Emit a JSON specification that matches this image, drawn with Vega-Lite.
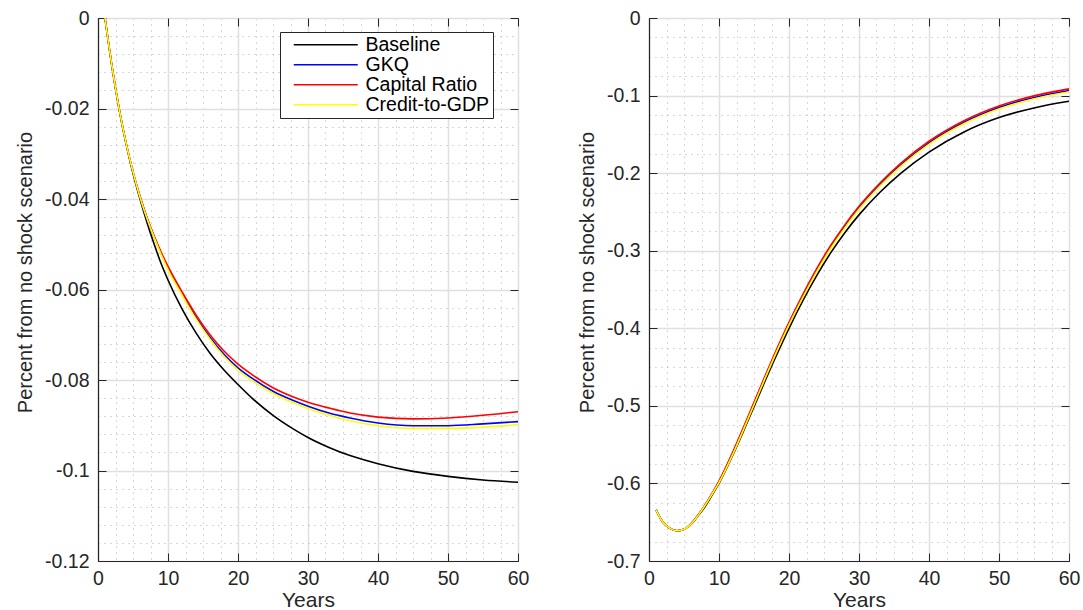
{
  "$schema": "https://vega.github.io/schema/vega-lite/v6.json",
  "background": "white",
  "padding": {"left": 15, "top": 7, "right": 0, "bottom": 0},
  "spacing": 46,
  "datasets": {
    "left": [
      {"year":1,"value":0,"series":"Baseline"},{"year":2,"value":-0.0108,"series":"Baseline"},{"year":3,"value":-0.0200,"series":"Baseline"},{"year":4,"value":-0.0277,"series":"Baseline"},{"year":5,"value":-0.0343,"series":"Baseline"},{"year":6,"value":-0.0400,"series":"Baseline"},{"year":7,"value":-0.0452,"series":"Baseline"},{"year":8,"value":-0.0499,"series":"Baseline"},{"year":9,"value":-0.0542,"series":"Baseline"},{"year":10,"value":-0.0579,"series":"Baseline"},{"year":12,"value":-0.0643,"series":"Baseline"},{"year":14,"value":-0.0696,"series":"Baseline"},{"year":16,"value":-0.0741,"series":"Baseline"},{"year":18,"value":-0.0778,"series":"Baseline"},{"year":20,"value":-0.0810,"series":"Baseline"},{"year":22,"value":-0.0840,"series":"Baseline"},{"year":25,"value":-0.0878,"series":"Baseline"},{"year":28,"value":-0.0909,"series":"Baseline"},{"year":30,"value":-0.0927,"series":"Baseline"},{"year":33,"value":-0.0949,"series":"Baseline"},{"year":36,"value":-0.0967,"series":"Baseline"},{"year":40,"value":-0.0985,"series":"Baseline"},{"year":45,"value":-0.1002,"series":"Baseline"},{"year":50,"value":-0.1013,"series":"Baseline"},{"year":55,"value":-0.1021,"series":"Baseline"},{"year":60,"value":-0.1026,"series":"Baseline"},
      {"year":1,"value":0,"series":"GKQ"},{"year":2,"value":-0.0107,"series":"GKQ"},{"year":3,"value":-0.0199,"series":"GKQ"},{"year":4,"value":-0.0276,"series":"GKQ"},{"year":5,"value":-0.0340,"series":"GKQ"},{"year":6,"value":-0.0395,"series":"GKQ"},{"year":7,"value":-0.0442,"series":"GKQ"},{"year":8,"value":-0.0483,"series":"GKQ"},{"year":9,"value":-0.0520,"series":"GKQ"},{"year":10,"value":-0.0553,"series":"GKQ"},{"year":12,"value":-0.0609,"series":"GKQ"},{"year":14,"value":-0.0661,"series":"GKQ"},{"year":16,"value":-0.0706,"series":"GKQ"},{"year":18,"value":-0.0743,"series":"GKQ"},{"year":20,"value":-0.0773,"series":"GKQ"},{"year":22,"value":-0.0796,"series":"GKQ"},{"year":25,"value":-0.0825,"series":"GKQ"},{"year":28,"value":-0.0846,"series":"GKQ"},{"year":30,"value":-0.0858,"series":"GKQ"},{"year":33,"value":-0.0873,"series":"GKQ"},{"year":36,"value":-0.0884,"series":"GKQ"},{"year":40,"value":-0.0895,"series":"GKQ"},{"year":45,"value":-0.0901,"series":"GKQ"},{"year":50,"value":-0.0901,"series":"GKQ"},{"year":55,"value":-0.0897,"series":"GKQ"},{"year":60,"value":-0.0892,"series":"GKQ"},
      {"year":1,"value":0,"series":"Capital Ratio"},{"year":2,"value":-0.0107,"series":"Capital Ratio"},{"year":3,"value":-0.0199,"series":"Capital Ratio"},{"year":4,"value":-0.0276,"series":"Capital Ratio"},{"year":5,"value":-0.0340,"series":"Capital Ratio"},{"year":6,"value":-0.0394,"series":"Capital Ratio"},{"year":7,"value":-0.0441,"series":"Capital Ratio"},{"year":8,"value":-0.0481,"series":"Capital Ratio"},{"year":9,"value":-0.0517,"series":"Capital Ratio"},{"year":10,"value":-0.0549,"series":"Capital Ratio"},{"year":12,"value":-0.0605,"series":"Capital Ratio"},{"year":14,"value":-0.0656,"series":"Capital Ratio"},{"year":16,"value":-0.0700,"series":"Capital Ratio"},{"year":18,"value":-0.0736,"series":"Capital Ratio"},{"year":20,"value":-0.0765,"series":"Capital Ratio"},{"year":22,"value":-0.0788,"series":"Capital Ratio"},{"year":25,"value":-0.0817,"series":"Capital Ratio"},{"year":28,"value":-0.0838,"series":"Capital Ratio"},{"year":30,"value":-0.0849,"series":"Capital Ratio"},{"year":33,"value":-0.0862,"series":"Capital Ratio"},{"year":36,"value":-0.0873,"series":"Capital Ratio"},{"year":40,"value":-0.0882,"series":"Capital Ratio"},{"year":45,"value":-0.0886,"series":"Capital Ratio"},{"year":50,"value":-0.0884,"series":"Capital Ratio"},{"year":55,"value":-0.0878,"series":"Capital Ratio"},{"year":60,"value":-0.0870,"series":"Capital Ratio"},
      {"year":1,"value":0,"series":"Credit-to-GDP"},{"year":2,"value":-0.0107,"series":"Credit-to-GDP"},{"year":3,"value":-0.0199,"series":"Credit-to-GDP"},{"year":4,"value":-0.0276,"series":"Credit-to-GDP"},{"year":5,"value":-0.0340,"series":"Credit-to-GDP"},{"year":6,"value":-0.0396,"series":"Credit-to-GDP"},{"year":7,"value":-0.0443,"series":"Credit-to-GDP"},{"year":8,"value":-0.0484,"series":"Credit-to-GDP"},{"year":9,"value":-0.0522,"series":"Credit-to-GDP"},{"year":10,"value":-0.0556,"series":"Credit-to-GDP"},{"year":12,"value":-0.0612,"series":"Credit-to-GDP"},{"year":14,"value":-0.0665,"series":"Credit-to-GDP"},{"year":16,"value":-0.0710,"series":"Credit-to-GDP"},{"year":18,"value":-0.0748,"series":"Credit-to-GDP"},{"year":20,"value":-0.0778,"series":"Credit-to-GDP"},{"year":22,"value":-0.0801,"series":"Credit-to-GDP"},{"year":25,"value":-0.0830,"series":"Credit-to-GDP"},{"year":28,"value":-0.0851,"series":"Credit-to-GDP"},{"year":30,"value":-0.0863,"series":"Credit-to-GDP"},{"year":33,"value":-0.0878,"series":"Credit-to-GDP"},{"year":36,"value":-0.0890,"series":"Credit-to-GDP"},{"year":40,"value":-0.0901,"series":"Credit-to-GDP"},{"year":45,"value":-0.0907,"series":"Credit-to-GDP"},{"year":50,"value":-0.0907,"series":"Credit-to-GDP"},{"year":55,"value":-0.0904,"series":"Credit-to-GDP"},{"year":60,"value":-0.0899,"series":"Credit-to-GDP"}
    ],
    "right": [
      {"year":1,"value":-0.634,"series":"Baseline"},{"year":2,"value":-0.650,"series":"Baseline"},{"year":3,"value":-0.658,"series":"Baseline"},{"year":4,"value":-0.661,"series":"Baseline"},{"year":5,"value":-0.659,"series":"Baseline"},{"year":6,"value":-0.653,"series":"Baseline"},{"year":7,"value":-0.642,"series":"Baseline"},{"year":8,"value":-0.630,"series":"Baseline"},{"year":9,"value":-0.615,"series":"Baseline"},{"year":10,"value":-0.600,"series":"Baseline"},{"year":12,"value":-0.563,"series":"Baseline"},{"year":14,"value":-0.522,"series":"Baseline"},{"year":16,"value":-0.480,"series":"Baseline"},{"year":18,"value":-0.439,"series":"Baseline"},{"year":20,"value":-0.400,"series":"Baseline"},{"year":22,"value":-0.364,"series":"Baseline"},{"year":24,"value":-0.3314,"series":"Baseline"},{"year":26,"value":-0.3022,"series":"Baseline"},{"year":28,"value":-0.2764,"series":"Baseline"},{"year":30,"value":-0.2538,"series":"Baseline"},{"year":33,"value":-0.2247,"series":"Baseline"},{"year":36,"value":-0.2001,"series":"Baseline"},{"year":40,"value":-0.1729,"series":"Baseline"},{"year":45,"value":-0.1469,"series":"Baseline"},{"year":50,"value":-0.1284,"series":"Baseline"},{"year":55,"value":-0.1159,"series":"Baseline"},{"year":60,"value":-0.1074,"series":"Baseline"},
      {"year":1,"value":-0.634,"series":"GKQ"},{"year":2,"value":-0.650,"series":"GKQ"},{"year":3,"value":-0.658,"series":"GKQ"},{"year":4,"value":-0.661,"series":"GKQ"},{"year":5,"value":-0.659,"series":"GKQ"},{"year":6,"value":-0.652,"series":"GKQ"},{"year":7,"value":-0.641,"series":"GKQ"},{"year":8,"value":-0.628,"series":"GKQ"},{"year":9,"value":-0.6135,"series":"GKQ"},{"year":10,"value":-0.598,"series":"GKQ"},{"year":12,"value":-0.5605,"series":"GKQ"},{"year":14,"value":-0.5185,"series":"GKQ"},{"year":16,"value":-0.4755,"series":"GKQ"},{"year":18,"value":-0.4335,"series":"GKQ"},{"year":20,"value":-0.394,"series":"GKQ"},{"year":22,"value":-0.358,"series":"GKQ"},{"year":24,"value":-0.3244,"series":"GKQ"},{"year":26,"value":-0.2947,"series":"GKQ"},{"year":28,"value":-0.2684,"series":"GKQ"},{"year":30,"value":-0.2448,"series":"GKQ"},{"year":33,"value":-0.2147,"series":"GKQ"},{"year":36,"value":-0.1891,"series":"GKQ"},{"year":40,"value":-0.1609,"series":"GKQ"},{"year":45,"value":-0.1344,"series":"GKQ"},{"year":50,"value":-0.1154,"series":"GKQ"},{"year":55,"value":-0.1024,"series":"GKQ"},{"year":60,"value":-0.0934,"series":"GKQ"},
      {"year":1,"value":-0.634,"series":"Capital Ratio"},{"year":2,"value":-0.650,"series":"Capital Ratio"},{"year":3,"value":-0.658,"series":"Capital Ratio"},{"year":4,"value":-0.661,"series":"Capital Ratio"},{"year":5,"value":-0.659,"series":"Capital Ratio"},{"year":6,"value":-0.652,"series":"Capital Ratio"},{"year":7,"value":-0.641,"series":"Capital Ratio"},{"year":8,"value":-0.628,"series":"Capital Ratio"},{"year":9,"value":-0.613,"series":"Capital Ratio"},{"year":10,"value":-0.597,"series":"Capital Ratio"},{"year":12,"value":-0.559,"series":"Capital Ratio"},{"year":14,"value":-0.517,"series":"Capital Ratio"},{"year":16,"value":-0.474,"series":"Capital Ratio"},{"year":18,"value":-0.432,"series":"Capital Ratio"},{"year":20,"value":-0.3925,"series":"Capital Ratio"},{"year":22,"value":-0.356,"series":"Capital Ratio"},{"year":24,"value":-0.3224,"series":"Capital Ratio"},{"year":26,"value":-0.2927,"series":"Capital Ratio"},{"year":28,"value":-0.2664,"series":"Capital Ratio"},{"year":30,"value":-0.2428,"series":"Capital Ratio"},{"year":33,"value":-0.2127,"series":"Capital Ratio"},{"year":36,"value":-0.1871,"series":"Capital Ratio"},{"year":40,"value":-0.1589,"series":"Capital Ratio"},{"year":45,"value":-0.1324,"series":"Capital Ratio"},{"year":50,"value":-0.1134,"series":"Capital Ratio"},{"year":55,"value":-0.1004,"series":"Capital Ratio"},{"year":60,"value":-0.0914,"series":"Capital Ratio"},
      {"year":1,"value":-0.634,"series":"Credit-to-GDP"},{"year":2,"value":-0.650,"series":"Credit-to-GDP"},{"year":3,"value":-0.658,"series":"Credit-to-GDP"},{"year":4,"value":-0.661,"series":"Credit-to-GDP"},{"year":5,"value":-0.659,"series":"Credit-to-GDP"},{"year":6,"value":-0.6525,"series":"Credit-to-GDP"},{"year":7,"value":-0.6415,"series":"Credit-to-GDP"},{"year":8,"value":-0.6285,"series":"Credit-to-GDP"},{"year":9,"value":-0.614,"series":"Credit-to-GDP"},{"year":10,"value":-0.599,"series":"Credit-to-GDP"},{"year":12,"value":-0.562,"series":"Credit-to-GDP"},{"year":14,"value":-0.520,"series":"Credit-to-GDP"},{"year":16,"value":-0.477,"series":"Credit-to-GDP"},{"year":18,"value":-0.435,"series":"Credit-to-GDP"},{"year":20,"value":-0.3955,"series":"Credit-to-GDP"},{"year":22,"value":-0.3598,"series":"Credit-to-GDP"},{"year":24,"value":-0.3262,"series":"Credit-to-GDP"},{"year":26,"value":-0.2965,"series":"Credit-to-GDP"},{"year":28,"value":-0.2702,"series":"Credit-to-GDP"},{"year":30,"value":-0.2466,"series":"Credit-to-GDP"},{"year":33,"value":-0.2165,"series":"Credit-to-GDP"},{"year":36,"value":-0.1909,"series":"Credit-to-GDP"},{"year":40,"value":-0.1629,"series":"Credit-to-GDP"},{"year":45,"value":-0.1364,"series":"Credit-to-GDP"},{"year":50,"value":-0.1174,"series":"Credit-to-GDP"},{"year":55,"value":-0.1044,"series":"Credit-to-GDP"},{"year":60,"value":-0.0954,"series":"Credit-to-GDP"}
    ]
  },
  "hconcat": [
    {
      "width": 420,
      "height": 543,
      "data": {"name": "left"},
      "layer": [
        {
          "mark": {"type": "line", "strokeWidth": 1.6, "interpolate": "monotone"},
          "encoding": {
            "x": {
              "field": "year", "type": "quantitative",
              "scale": {"domain": [0, 60], "nice": false, "zero": false},
              "axis": {
                "orient": "bottom",
                "title": "Years",
                "values": [0,2.5,5,7.5,10,12.5,15,17.5,20,22.5,25,27.5,30,32.5,35,37.5,40,42.5,45,47.5,50,52.5,55,57.5,60],
                "labelExpr": "datum.value % 10 === 0 ? datum.value + '' : ''",
                "grid": true,
                "gridColor": {"condition": {"test": "datum.value % 10 === 0", "value": "#e0e0e0"}, "value": "#b0b0b0"},
                "gridDash": {"condition": {"test": "datum.value % 10 === 0", "value": []}, "value": [1, 5]},
                "gridWidth": {"condition": {"test": "datum.value % 10 === 0", "value": 1.5}, "value": 1},
                "tickOpacity": {"condition": {"test": "datum.value % 10 === 0", "value": 1}, "value": 0},
                "tickSize": -8,
                "labelPadding": 16,
                "titlePadding": 2
              }
            },
            "y": {
              "field": "value", "type": "quantitative",
              "scale": {"domain": [-0.12, 0], "nice": false, "zero": false},
              "axis": {
                "orient": "left",
                "title": "Percent from no shock scenario",
                "titleFontSize": 20,
                "titleY": 254,
                "values": [0,-0.004,-0.008,-0.012,-0.016,-0.02,-0.024,-0.028,-0.032,-0.036,-0.04,-0.044,-0.048,-0.052,-0.056,-0.06,-0.064,-0.068,-0.072,-0.076,-0.08,-0.084,-0.088,-0.092,-0.096,-0.1,-0.104,-0.108,-0.112,-0.116,-0.12],
                "labelExpr": "indexof([0,-0.02,-0.04,-0.06,-0.08,-0.1,-0.12], datum.value) >= 0 ? datum.value + '' : ''",
                "grid": true,
                "gridColor": {"condition": {"test": "indexof([0,-0.02,-0.04,-0.06,-0.08,-0.1,-0.12], datum.value) >= 0", "value": "#e0e0e0"}, "value": "#b0b0b0"},
                "gridDash": {"condition": {"test": "indexof([0,-0.02,-0.04,-0.06,-0.08,-0.1,-0.12], datum.value) >= 0", "value": []}, "value": [1, 5]},
                "gridWidth": {"condition": {"test": "indexof([0,-0.02,-0.04,-0.06,-0.08,-0.1,-0.12], datum.value) >= 0", "value": 1.5}, "value": 1},
                "tickOpacity": {"condition": {"test": "indexof([0,-0.02,-0.04,-0.06,-0.08,-0.1,-0.12], datum.value) >= 0", "value": 1}, "value": 0},
                "tickSize": -8,
                "labelPadding": 17,
                "titlePadding": 9
              }
            },
            "color": {
              "field": "series", "type": "nominal",
              "scale": {"domain": ["Baseline", "GKQ", "Capital Ratio", "Credit-to-GDP"], "range": ["#000000", "#0000ff", "#ff0000", "#ffff00"]},
              "legend": {
                "title": null,
                "orient": "none",
                "legendX": 182,
                "legendY": 14,
                "symbolType": "M-4,0H4",
                "symbolSize": 256,
                "symbolStrokeWidth": 1.3,
                "symbolOffset": 33,
                "labelOffset": 30,
                "labelFont": "Liberation Sans",
                "labelFontSize": 19.5,
                "labelColor": "#000000",
                "strokeColor": "#262626",
                "fillColor": "#ffffff",
                "padding": 3,
                "rowPadding": -2.1
              }
            }
          }
        },
        {
          "mark": {"type": "line", "strokeOpacity": 0},
          "encoding": {
            "x": {
              "field": "year", "type": "quantitative",
              "axis": {"orient": "top", "values": [0,10,20,30,40,50,60], "labels": false, "grid": false, "domain": false, "tickSize": -8, "title": null}
            },
            "y": {
              "field": "value", "type": "quantitative",
              "axis": {"orient": "right", "values": [0,-0.02,-0.04,-0.06,-0.08,-0.1,-0.12], "labels": false, "grid": false, "domain": false, "tickSize": -8, "title": null}
            }
          }
        }
      ],
      "resolve": {"axis": {"x": "independent", "y": "independent"}}
    },
    {
      "width": 420,
      "height": 543,
      "data": {"name": "right"},
      "layer": [
        {
          "mark": {"type": "line", "strokeWidth": 1.6, "interpolate": "monotone"},
          "encoding": {
            "x": {
              "field": "year", "type": "quantitative",
              "scale": {"domain": [0, 60], "nice": false, "zero": false},
              "axis": {
                "orient": "bottom",
                "title": "Years",
                "values": [0,2.5,5,7.5,10,12.5,15,17.5,20,22.5,25,27.5,30,32.5,35,37.5,40,42.5,45,47.5,50,52.5,55,57.5,60],
                "labelExpr": "datum.value % 10 === 0 ? datum.value + '' : ''",
                "grid": true,
                "gridColor": {"condition": {"test": "datum.value % 10 === 0", "value": "#e0e0e0"}, "value": "#b0b0b0"},
                "gridDash": {"condition": {"test": "datum.value % 10 === 0", "value": []}, "value": [1, 5]},
                "gridWidth": {"condition": {"test": "datum.value % 10 === 0", "value": 1.5}, "value": 1},
                "tickOpacity": {"condition": {"test": "datum.value % 10 === 0", "value": 1}, "value": 0},
                "tickSize": -8,
                "labelPadding": 16,
                "titlePadding": 2
              }
            },
            "y": {
              "field": "value", "type": "quantitative",
              "scale": {"domain": [-0.7, 0], "nice": false, "zero": false},
              "axis": {
                "orient": "left",
                "title": "Percent from no shock scenario",
                "titleFontSize": 20,
                "titleY": 254,
                "values": [0,-0.025,-0.05,-0.075,-0.1,-0.125,-0.15,-0.175,-0.2,-0.225,-0.25,-0.275,-0.3,-0.325,-0.35,-0.375,-0.4,-0.425,-0.45,-0.475,-0.5,-0.525,-0.55,-0.575,-0.6,-0.625,-0.65,-0.675,-0.7],
                "labelExpr": "indexof([0,-0.1,-0.2,-0.3,-0.4,-0.5,-0.6,-0.7], datum.value) >= 0 ? datum.value + '' : ''",
                "grid": true,
                "gridColor": {"condition": {"test": "indexof([0,-0.1,-0.2,-0.3,-0.4,-0.5,-0.6,-0.7], datum.value) >= 0", "value": "#e0e0e0"}, "value": "#b0b0b0"},
                "gridDash": {"condition": {"test": "indexof([0,-0.1,-0.2,-0.3,-0.4,-0.5,-0.6,-0.7], datum.value) >= 0", "value": []}, "value": [1, 5]},
                "gridWidth": {"condition": {"test": "indexof([0,-0.1,-0.2,-0.3,-0.4,-0.5,-0.6,-0.7], datum.value) >= 0", "value": 1.5}, "value": 1},
                "tickOpacity": {"condition": {"test": "indexof([0,-0.1,-0.2,-0.3,-0.4,-0.5,-0.6,-0.7], datum.value) >= 0", "value": 1}, "value": 0},
                "tickSize": -8,
                "labelPadding": 17,
                "titlePadding": 9
              }
            },
            "color": {
              "field": "series", "type": "nominal",
              "scale": {"domain": ["Baseline", "GKQ", "Capital Ratio", "Credit-to-GDP"], "range": ["#000000", "#0000ff", "#ff0000", "#ffff00"]},
              "legend": null
            }
          }
        },
        {
          "mark": {"type": "line", "strokeOpacity": 0},
          "encoding": {
            "x": {
              "field": "year", "type": "quantitative",
              "axis": {"orient": "top", "values": [0,10,20,30,40,50,60], "labels": false, "grid": false, "domain": false, "tickSize": -8, "title": null}
            },
            "y": {
              "field": "value", "type": "quantitative",
              "axis": {"orient": "right", "values": [0,-0.1,-0.2,-0.3,-0.4,-0.5,-0.6,-0.7], "labels": false, "grid": false, "domain": false, "tickSize": -8, "title": null}
            }
          }
        }
      ],
      "resolve": {"axis": {"x": "independent", "y": "independent"}}
    }
  ],
  "resolve": {"scale": {"color": "independent"}, "legend": {"color": "independent"}},
  "config": {
    "view": {"stroke": "#262626", "strokeWidth": 1},
    "axis": {
      "labelFont": "Liberation Sans",
      "titleFont": "Liberation Sans",
      "labelColor": "#262626",
      "titleColor": "#262626",
      "titleFontWeight": "normal",
      "labelFontSize": 19.5,
      "titleFontSize": 21,
      "domainColor": "#262626",
      "domainWidth": 1.2,
      "tickColor": "#262626",
      "tickWidth": 1,
      "labelFlush": false,
      "labelOverlap": false
    }
  }
}
